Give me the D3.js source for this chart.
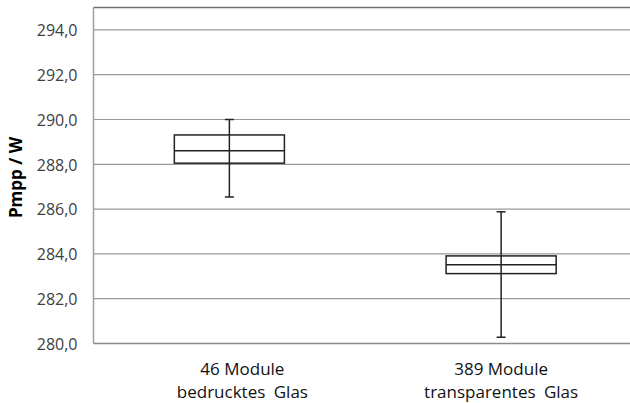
<!DOCTYPE html>
<html>
<head>
<meta charset="utf-8">
<script src="https://cdn.jsdelivr.net/npm/d3@7"></script>
<style>
  html, body { margin: 0; padding: 0; background: #fff; }
  svg { display: block; }
  text { font-family: "Open Sans", "Noto Sans", sans-serif; }
</style>
</head>
<body>
<svg id="chart" width="630" height="403"></svg>
<script>
// Module groups and their Pmpp distributions (W)
const categories = ["46 Module|bedrucktes Glas", "389 Module|transparentes Glas"];
const whiskerLow  = [286.54, 280.28];
const quartile1   = [288.05, 283.12];
const medians     = [288.61, 283.52];
const quartile3   = [289.31, 283.91];
const whiskerHigh = [290.00, 285.88];
const yTicks = [280, 282, 284, 286, 288, 290, 292, 294];
const labelShift = [13, 0];

(function draw() {
  const svg = d3.select("#chart");
  const plotLeft = 93.5, plotRight = 637, plotTop = 7.5, plotBottom = 343.5;

  const x = d3.scaleBand().domain(categories).range([plotLeft, plotRight]).paddingInner(0).paddingOuter(0);
  const y = d3.scaleLinear().domain([280, 295]).range([plotBottom, plotTop]);
  const fmt = v => d3.format(".1f")(v).replace(".", ",");

  // horizontal gridlines
  svg.append("g")
    .selectAll("line")
    .data(yTicks.slice(1))
    .join("line")
    .attr("x1", plotLeft).attr("x2", plotRight)
    .attr("y1", d => y(d)).attr("y2", d => y(d))
    .attr("stroke", "#9a9a9a").attr("stroke-width", 1.2);

  // plot frame: top edge, left axis, bottom axis
  svg.append("line").attr("x1", plotLeft).attr("x2", plotRight).attr("y1", plotTop).attr("y2", plotTop)
    .attr("stroke", "#6e6e6e").attr("stroke-width", 1.6);
  svg.append("line").attr("x1", plotLeft).attr("x2", plotLeft).attr("y1", plotTop).attr("y2", plotBottom)
    .attr("stroke", "#a0a0a0").attr("stroke-width", 1.5);
  svg.append("line").attr("x1", plotLeft).attr("x2", plotRight).attr("y1", plotBottom).attr("y2", plotBottom)
    .attr("stroke", "#8c8c8c").attr("stroke-width", 1.5);

  // y axis labels
  const yAxis = d3.axisLeft(y).tickValues(yTicks).tickFormat(fmt).tickSize(0).tickPadding(16);
  const gy = svg.append("g").attr("transform", `translate(${plotLeft},0)`).call(yAxis);
  gy.select(".domain").remove();
  gy.selectAll("text")
    .attr("font-size", 16)
    .attr("fill", "#404040")
    .attr("dy", "0.36em")
    .style("font-family", "'Open Sans', sans-serif");

  // y axis title
  svg.append("text")
    .attr("transform", `translate(22,${(plotTop + plotBottom) / 2 + 2}) rotate(-90)`)
    .attr("text-anchor", "middle")
    .attr("font-size", 17)
    .attr("font-weight", "bold")
    .attr("fill", "#000")
    .text("Pmpp / W");

  // box plots
  const boxW = x.bandwidth() * 0.405;
  const capW = 9;
  const groups = svg.append("g")
    .selectAll("g")
    .data(categories.map((c, i) => ({ c, i })))
    .join("g")
    .attr("transform", d => `translate(${x(d.c) + x.bandwidth() / 2},0)`);

  groups.append("line")
    .attr("x1", 0).attr("x2", 0)
    .attr("y1", d => y(whiskerLow[d.i])).attr("y2", d => y(whiskerHigh[d.i]))
    .attr("stroke", "#222").attr("stroke-width", 1.5);
  groups.append("line")
    .attr("x1", -capW / 2).attr("x2", capW / 2)
    .attr("y1", d => y(whiskerHigh[d.i])).attr("y2", d => y(whiskerHigh[d.i]))
    .attr("stroke", "#222").attr("stroke-width", 1.5);
  groups.append("line")
    .attr("x1", -capW / 2).attr("x2", capW / 2)
    .attr("y1", d => y(whiskerLow[d.i])).attr("y2", d => y(whiskerLow[d.i]))
    .attr("stroke", "#222").attr("stroke-width", 1.5);
  groups.append("rect")
    .attr("x", -boxW / 2).attr("width", boxW)
    .attr("y", d => y(quartile3[d.i]))
    .attr("height", d => y(quartile1[d.i]) - y(quartile3[d.i]))
    .attr("fill", "none").attr("stroke", "#222").attr("stroke-width", 1.5);
  groups.append("line")
    .attr("x1", -boxW / 2).attr("x2", boxW / 2)
    .attr("y1", d => y(medians[d.i])).attr("y2", d => y(medians[d.i]))
    .attr("stroke", "#222").attr("stroke-width", 1.5);

  // category labels (two lines each)
  const labels = svg.append("g")
    .selectAll("text")
    .data(categories.map((c, i) => ({ c, i })))
    .join("text")
    .attr("text-anchor", "middle")
    .attr("font-size", 17)
    .attr("fill", "#111")
    .attr("transform", d => `translate(${x(d.c) + x.bandwidth() / 2 + labelShift[d.i]},375)`);
  labels.selectAll("tspan")
    .data(d => d.c.split("|"))
    .join("tspan")
    .attr("x", 0)
    .attr("dy", (d, j) => j === 0 ? 0 : 23)
    .style("word-spacing", (d, j) => j === 0 ? "0px" : "4px")
    .text(d => d);
})();
</script>
</body>
</html>
